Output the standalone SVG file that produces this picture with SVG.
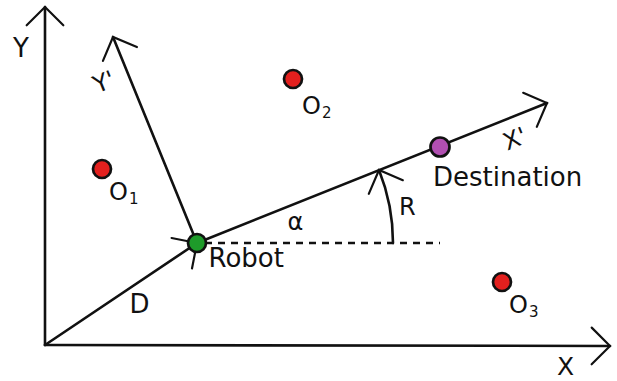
<svg xmlns="http://www.w3.org/2000/svg" width="617" height="381" viewBox="0 0 617 381">
  <style>
    .ln { stroke: #111; stroke-width: 2.6; fill: none; stroke-linecap: round; }
    .dash { stroke: #111; stroke-width: 2.3; fill: none; stroke-dasharray: 7 6; }
    .t { font-family: "DejaVu Sans", "Liberation Sans", sans-serif; fill: #111; }
    .node { stroke: #111; stroke-width: 2.7; }
    .obs { fill: #e3201e; }
  </style>
  <defs>
    <marker id="open" markerUnits="userSpaceOnUse" markerWidth="50" markerHeight="50" refX="0" refY="0" viewBox="-30 -30 40 60" orient="auto" overflow="visible">
      <path d="M -22,-22 L 0,0 L -22,22" fill="none" stroke="#111" stroke-width="2.6" stroke-linecap="round" stroke-linejoin="miter"/>
    </marker>
  </defs>
  <rect width="617" height="381" fill="#ffffff"/>

  <g id="connectors">
    <line class="ln" x1="45" y1="345" x2="45" y2="7" marker-end="url(#open)"/>
    <line class="ln" x1="45" y1="345" x2="610" y2="346" marker-end="url(#open)"/>
    <line class="ln" x1="45" y1="345" x2="197" y2="243" marker-end="url(#open)"/>
    <line class="ln" x1="197" y1="243" x2="113" y2="37" marker-end="url(#open)"/>
    <line class="ln" x1="197" y1="243" x2="547" y2="103" marker-end="url(#open)"/>
    <line class="dash" x1="205" y1="243" x2="440" y2="243"/>
    <path class="ln" d="M 393,243 A 196 196 0 0 0 379,170" marker-end="url(#open)"/>
  </g>

  <g id="axis-labels">
    <text class="t" x="13" y="57" font-size="26">Y</text>
    <text class="t" x="557" y="375" font-size="25">X</text>
    <text class="t" transform="translate(104,82) rotate(-22)" x="0" y="8" font-size="24" text-anchor="middle">Y'</text>
    <text class="t" transform="translate(515,139) rotate(-22)" x="0" y="8" font-size="24" text-anchor="middle">X'</text>
    <text class="t" x="129.5" y="313" font-size="26">D</text>
    <text class="t" x="295.5" y="230" font-size="24" text-anchor="middle">α</text>
    <text class="t" x="399" y="215" font-size="24">R</text>
  </g>

  <g id="robot">
    <circle class="node" cx="197" cy="243" r="9" fill="#1e9b2a"/>
    <text class="t" x="208.5" y="267" font-size="26">Robot</text>
  </g>

  <g id="destination">
    <circle class="node" cx="440" cy="147" r="9.5" fill="#b14fb1"/>
    <text class="t" x="433" y="186" font-size="26">Destination</text>
  </g>

  <g id="o1">
    <circle class="node obs" cx="102" cy="169" r="9"/>
    <text class="t" x="109" y="200" font-size="24">O<tspan font-size="15" dy="4" dx="1">1</tspan></text>
  </g>

  <g id="o2">
    <circle class="node obs" cx="293" cy="79" r="9"/>
    <text class="t" x="302" y="114" font-size="24">O<tspan font-size="15" dy="4" dx="1">2</tspan></text>
  </g>

  <g id="o3">
    <circle class="node obs" cx="502" cy="282" r="9"/>
    <text class="t" x="509" y="313" font-size="24">O<tspan font-size="15" dy="4" dx="1">3</tspan></text>
  </g>
</svg>
